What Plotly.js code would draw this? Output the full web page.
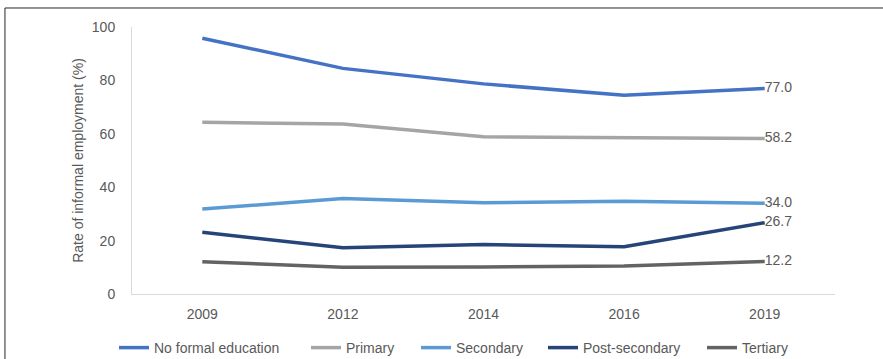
<!DOCTYPE html>
<html>
<head>
<meta charset="utf-8">
<script src="https://cdn.plot.ly/plotly-3.0.1.min.js"></script>
<style>
  html, body { margin: 0; padding: 0; background: #ffffff; }
  #chart { width: 883px; height: 359px; }
</style>
</head>
<body>
<div id="chart"></div>
<script>
// Survey years on the category axis
const years = ['2009', '2012', '2014', '2016', '2019'];

// Rate of informal employment (%) by education level
const noFormalEducation = [95.8, 84.5, 78.7, 74.4, 77.0];
const primary = [64.3, 63.7, 58.9, 58.5, 58.2];
const secondary = [31.8, 35.8, 34.2, 34.7, 34.0];
const postSecondary = [23.1, 17.3, 18.5, 17.7, 26.7];
const tertiary = [12.1, 10.0, 10.1, 10.5, 12.2];

const seriesNames = ['No formal education', 'Primary', 'Secondary', 'Post-secondary', 'Tertiary'];
const seriesValues = [noFormalEducation, primary, secondary, postSecondary, tertiary];
const seriesColors = ['#4472C4', '#A5A5A5', '#5B9BD5', '#264478', '#636363'];

const textColor = '#595959';
const fontFamily = 'Liberation Sans, Arial, sans-serif';
const fontSize = 14;

// Each series gets its own legend box so the entries sit at fixed spots along the bottom
const legendIds = ['legend', 'legend2', 'legend3', 'legend4', 'legend5'];
const legendLeftPx = [114, 306, 416, 543, 702];
const figWidth = 883;
const figHeight = 359;

// One line per education level; only the final year carries a value label
const traces = seriesValues.map((vals, i) => ({
  type: 'scatter',
  mode: 'lines+text',
  name: seriesNames[i],
  legend: legendIds[i],
  x: years,
  y: vals,
  text: vals.map((v, j) => (j === vals.length - 1 ? v.toFixed(1) : '')),
  textposition: 'middle right',
  textfont: { family: fontFamily, size: fontSize, color: textColor },
  cliponaxis: false,
  line: { color: seriesColors[i], width: 3.5 },
  hoverinfo: 'x+y+name'
}));

const layout = {
  width: figWidth,
  height: figHeight,
  margin: { l: 132, r: 48, t: 27, b: 65 },
  paper_bgcolor: '#ffffff',
  plot_bgcolor: '#ffffff',
  font: { family: fontFamily, size: fontSize, color: textColor },
  showlegend: true,
  xaxis: {
    type: 'category',
    range: [-0.5, 4.5],
    automargin: false,
    showgrid: false,
    zeroline: false,
    showline: true,
    linecolor: '#D9D9D9',
    linewidth: 1,
    ticks: '',
    ticklabelstandoff: 7,
    tickfont: { family: fontFamily, size: fontSize, color: textColor },
    fixedrange: true
  },
  yaxis: {
    range: [0, 100],
    dtick: 20,
    automargin: false,
    showgrid: false,
    zeroline: false,
    showline: true,
    linecolor: '#D9D9D9',
    linewidth: 1,
    ticks: '',
    ticklabelstandoff: 13,
    tickfont: { family: fontFamily, size: fontSize, color: textColor },
    title: {
      text: 'Rate of informal employment (%)',
      font: { family: fontFamily, size: fontSize, color: textColor },
      standoff: 4
    },
    fixedrange: true
  },
  shapes: [
    {
      // outer chart frame
      type: 'rect',
      xref: 'paper',
      yref: 'paper',
      x0: -0.1807,
      x1: 1.2,
      y0: -0.5,
      y1: 1.0712,
      line: { color: '#262626', width: 1 },
      fillcolor: 'rgba(0,0,0,0)',
      layer: 'below'
    }
  ]
};

legendIds.forEach((id, i) => {
  layout[id] = {
    orientation: 'h',
    xref: 'container',
    yref: 'container',
    x: legendLeftPx[i] / figWidth,
    xanchor: 'left',
    y: 1 - 348 / figHeight,
    yanchor: 'middle',
    bgcolor: 'rgba(0,0,0,0)',
    font: { family: fontFamily, size: fontSize, color: textColor },
    itemwidth: 30
  };
});

Plotly.newPlot('chart', traces, layout, { displayModeBar: false, staticPlot: true });
</script>
</body>
</html>
